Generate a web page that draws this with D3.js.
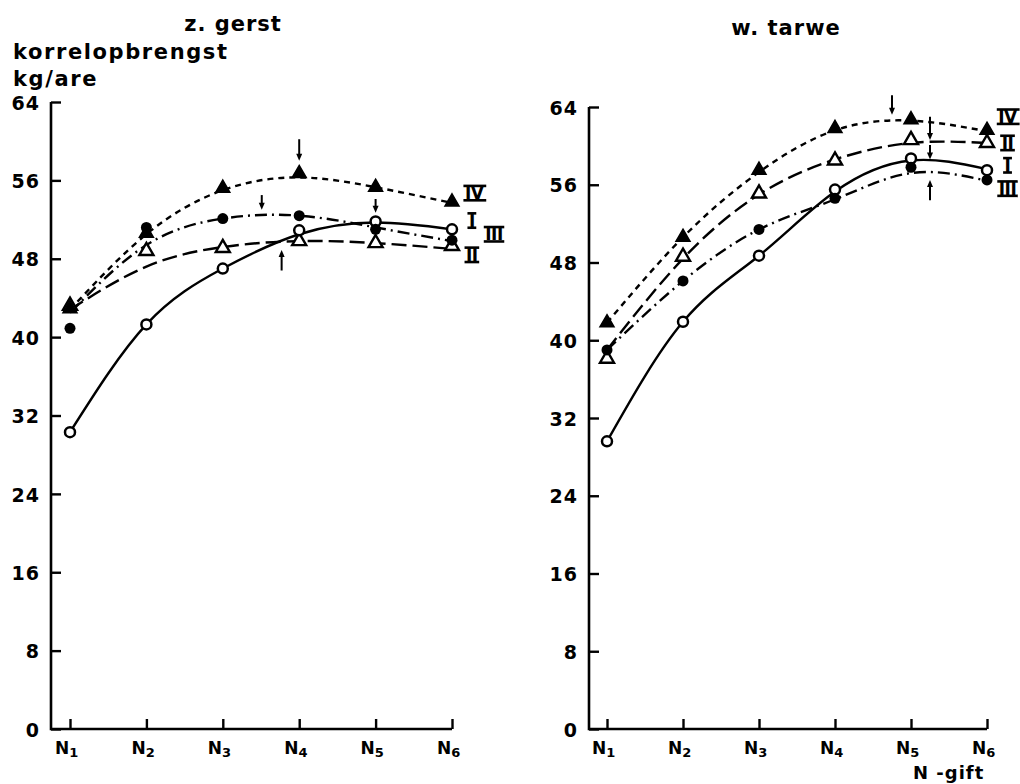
<!DOCTYPE html>
<html>
<head>
<meta charset="utf-8">
<script src="https://cdn.jsdelivr.net/npm/d3@7"></script>
<style>
  body { margin: 0; background: #fff; }
  svg { display: block; }
  text { font-family: "DejaVu Sans", sans-serif; font-weight: bold; fill: #000; }
</style>
</head>
<body>
<div id="chart"></div>
<script>
// ---- data ----
const levels = ["N", "N", "N", "N", "N", "N"];
const levelSubs = ["1", "2", "3", "4", "5", "6"];
const yTicks = [0, 8, 16, 24, 32, 40, 48, 56, 64];
const seriesNames = ["I", "II", "III", "IV"];

// z. gerst : measured points
const gerstI   = [30.3, 41.3, 47.0, 50.9, 51.8, 51.0];
const gerstII  = [43.2, 48.8, 49.1, 49.8, 49.6, 49.3];
const gerstIII = [40.9, 51.2, 52.1, 52.4, 51.0, 49.9];
const gerstIV  = [42.9, 50.6, 55.2, 56.7, 55.3, 53.8];
// z. gerst : fitted curves
const gerstFitI   = [30.3, 41.3, 47.0, 50.5, 51.7, 51.0];
const gerstFitII  = [42.8, 47.2, 49.2, 49.8, 49.6, 49.0];
const gerstFitIII = [42.5, 49.4, 52.1, 52.4, 51.2, 49.8];
const gerstFitIV  = [42.8, 50.5, 55.0, 56.3, 55.3, 53.7];

// w. tarwe : measured points
const tarweI   = [29.6, 41.9, 48.7, 55.5, 58.7, 57.5];
const tarweII  = [38.1, 48.6, 55.1, 58.5, 60.6, 60.3];
const tarweIII = [39.0, 46.1, 51.4, 54.6, 57.8, 56.5];
const tarweIV  = [41.8, 50.6, 57.5, 61.8, 62.7, 61.6];
// w. tarwe : fitted curves
const tarweFitI   = [29.6, 41.9, 48.7, 55.3, 58.5, 57.6];
const tarweFitII  = [39.0, 48.4, 55.0, 58.6, 60.3, 60.3];
const tarweFitIII = [39.0, 46.1, 51.4, 54.5, 57.2, 56.4];
const tarweFitIV  = [41.8, 50.6, 57.3, 61.6, 62.6, 61.5];

// optimum arrows: position on N axis (0 = N1), from value, to value
const gerstArrows = [[3.0, 60.2, 58.0], [2.51, 54.5, 53.0], [4.0, 54.1, 52.7], [2.77, 46.8, 48.9]];
const tarweArrows = [[3.75, 65.2, 63.2], [4.25, 63.0, 60.6], [4.25, 60.1, 58.6], [4.25, 54.4, 56.5]];

// series labels next to the curves: name, N position, value
const gerstLabels = [["IV", 5.29, 54.7], ["I", 5.26, 51.9], ["III", 5.55, 50.5], ["II", 5.26, 48.4]];
const tarweLabels = [["IV", 5.27, 63.0], ["II", 5.27, 60.3], ["I", 5.27, 58.0], ["III", 5.27, 55.6]];

const width = 1020, height = 784;

const svg = d3.select("#chart").append("svg")
  .attr("width", width)
  .attr("height", height);

// line style per series
const dashes = { I: null, II: "15,6", III: "12,5,2,5", IV: "6,5" };

function panel(opts) {
  const g = svg.append("g");
  const x = d3.scaleLinear().domain([0, 5]).range([opts.xN1, opts.xN6]);
  const y = d3.scaleLinear().domain([0, 64]).range([opts.y0, opts.y64]);

  // axes (ticks point inward)
  g.append("path")
    .attr("d", d3.line()([[opts.axisX, y(64)], [opts.axisX, y(0)], [x(5), y(0)]]))
    .attr("fill", "none").attr("stroke", "#000").attr("stroke-width", 2.6);

  const yAxis = g.append("g")
    .attr("transform", `translate(${opts.axisX},0)`)
    .call(d3.axisLeft(y).tickValues(yTicks).tickSize(-10).tickPadding(11));
  yAxis.select(".domain").remove();
  yAxis.selectAll(".tick line").attr("stroke", "#000").attr("stroke-width", 2.4);
  yAxis.selectAll(".tick text")
    .attr("font-family", "DejaVu Sans").attr("font-size", 19)
    .attr("letter-spacing", 1).attr("fill", "#000").attr("dy", "0.38em");

  const xAxis = g.append("g")
    .attr("transform", `translate(0,${y(0)})`)
    .call(d3.axisBottom(x).tickValues(d3.range(6)).tickSize(-10).tickFormat(""));
  xAxis.select(".domain").remove();
  xAxis.selectAll(".tick line").attr("stroke", "#000").attr("stroke-width", 2.4);

  const xl = g.selectAll("text.xlab").data(levels).join("text")
    .attr("class", "xlab")
    .attr("x", (d, i) => x(i) - 15)
    .attr("y", y(0) + 25)
    .attr("font-size", 17);
  xl.append("tspan").text(d => d);
  xl.append("tspan").attr("font-size", 13).attr("dy", 3).text((d, i) => levelSubs[i]);

  // fitted curves
  const line = d3.line().x((d, i) => x(i)).y(d => y(d)).curve(d3.curveNatural);
  seriesNames.forEach(s => {
    g.append("path")
      .attr("d", line(opts.fits[s]))
      .attr("fill", "none").attr("stroke", "#000").attr("stroke-width", 2.4)
      .attr("stroke-dasharray", dashes[s]);
  });

  // markers
  const tri = d3.symbol().type(d3.symbolTriangle).size(85);
  const draw = {
    I: sel => sel.append("circle").attr("r", 5).attr("fill", "#fff").attr("stroke", "#000").attr("stroke-width", 2.5),
    II: sel => sel.append("path").attr("d", tri).attr("fill", "#fff").attr("stroke", "#000").attr("stroke-width", 2.4),
    III: sel => sel.append("circle").attr("r", 5.5).attr("fill", "#000"),
    IV: sel => sel.append("path").attr("d", tri).attr("fill", "#000").attr("stroke", "#000").attr("stroke-width", 1.5)
  };
  ["II", "I", "III", "IV"].forEach(s => {
    const m = g.selectAll(null).data(opts.points[s]).join("g")
      .attr("transform", (d, i) => `translate(${x(i)},${y(d)})`);
    draw[s](m);
  });

  // optimum arrows
  opts.arrows.forEach(([p, from, to]) => {
    const dir = Math.sign(y(to) - y(from));
    g.append("line")
      .attr("x1", x(p)).attr("x2", x(p))
      .attr("y1", y(from)).attr("y2", y(to) - dir * 5)
      .attr("stroke", "#000").attr("stroke-width", 2);
    g.append("path")
      .attr("d", d3.line()([[x(p) - 3, y(to) - dir * 7], [x(p) + 3, y(to) - dir * 7], [x(p), y(to)]]) + "Z")
      .attr("fill", "#000");
  });

  // series labels: serif roman numerals with bars above and below
  const fs = 17, cap = fs * 0.73;
  opts.labels.forEach(([name, p, v]) => {
    const t = g.append("text")
      .attr("x", x(p))
      .attr("y", y(v) + cap / 2)
      .attr("text-anchor", "middle")
      .attr("font-family", "DejaVu Serif")
      .attr("font-size", fs)
      .attr("letter-spacing", -0.5)
      .text(name);
    const bb = t.node().getBBox();
    [y(v) + cap / 2 + 1, y(v) - cap / 2 - 1].forEach(by => {
      g.append("line")
        .attr("x1", bb.x - 1.5).attr("x2", bb.x + bb.width + 1.5)
        .attr("y1", by).attr("y2", by)
        .attr("stroke", "#000").attr("stroke-width", 2.6);
    });
  });

  // title
  g.append("text")
    .attr("x", opts.titleX).attr("y", opts.titleY)
    .attr("text-anchor", "middle")
    .attr("font-size", 21).attr("letter-spacing", 1)
    .text(opts.title);
  return g;
}

panel({
  title: "z. gerst", titleX: 233, titleY: 31,
  axisX: 51, xN1: 70, xN6: 452, y0: 729, y64: 102,
  points: { I: gerstI, II: gerstII, III: gerstIII, IV: gerstIV },
  fits: { I: gerstFitI, II: gerstFitII, III: gerstFitIII, IV: gerstFitIV },
  arrows: gerstArrows, labels: gerstLabels
});

panel({
  title: "w. tarwe", titleX: 786, titleY: 35,
  axisX: 589, xN1: 607, xN6: 987, y0: 729, y64: 107,
  points: { I: tarweI, II: tarweII, III: tarweIII, IV: tarweIV },
  fits: { I: tarweFitI, II: tarweFitII, III: tarweFitIII, IV: tarweFitIV },
  arrows: tarweArrows, labels: tarweLabels
});

// axis titles
svg.append("text").attr("x", 13).attr("y", 59)
  .attr("font-size", 21).attr("letter-spacing", 1.6).text("korrelopbrengst");
svg.append("text").attr("x", 13).attr("y", 86)
  .attr("font-size", 21).attr("letter-spacing", 1.6).text("kg/are");
svg.append("text").attr("x", 913).attr("y", 779)
  .attr("font-size", 18).attr("letter-spacing", 1).text("N -gift");
</script>
</body>
</html>
